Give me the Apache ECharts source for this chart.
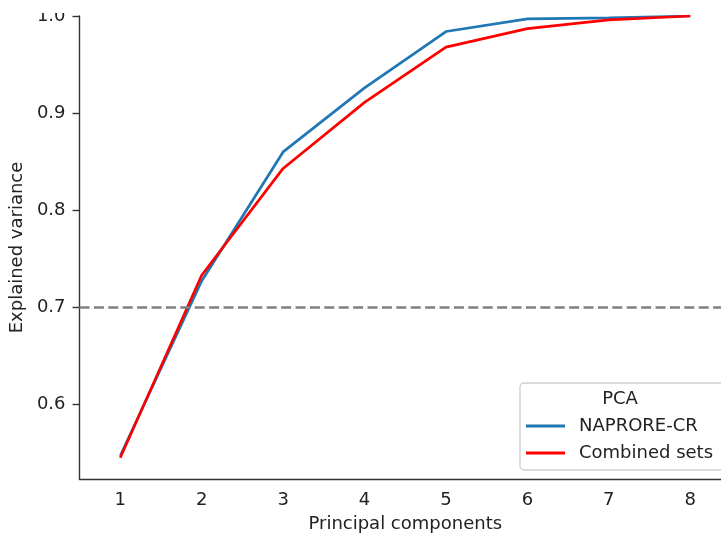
<!DOCTYPE html>
<html>
<head>
<meta charset="utf-8">
<script src="https://cdn.jsdelivr.net/npm/echarts@6/dist/echarts.min.js"></script>
<style>
html,body{margin:0;padding:0;overflow:hidden;background:#fff;}
#c{width:732px;height:538px;}
</style>
</head>
<body>
<div id="c"></div>
<script>
var components = ['1','2','3','4','5','6','7','8'];
var napProreCR = [0.547, 0.727, 0.860, 0.926, 0.984, 0.997, 0.998, 1.000];
var combinedSets = [0.545, 0.733, 0.843, 0.911, 0.968, 0.987, 0.996, 1.000];
var yTicks = [0.6, 0.7, 0.8, 0.9, 1.0];
var threshold = 0.7;
var seriesNames = ['NAPRORE-CR', 'Combined sets'];
var legendTitle = 'PCA';

var FONT = 'DejaVu Sans';
var axisColor = '#333';
var chart = echarts.init(document.getElementById('c'));
chart.setOption({
  animation: false,
  textStyle: {fontFamily: FONT},
  grid: {left: 79, top: 16, right: 1, bottom: 58, containLabel: false},
  xAxis: {
    type: 'category',
    data: components,
    boundaryGap: true,
    name: 'Principal components',
    nameLocation: 'middle',
    nameGap: 36,
    nameTextStyle: {fontFamily: FONT, fontSize: 18, color: '#222'},
    axisLine: {onZero: false, lineStyle: {color: axisColor, width: 1.4}},
    axisTick: {alignWithLabel: true, length: 7, lineStyle: {color: axisColor, width: 1.4}},
    axisLabel: {fontFamily: FONT, fontSize: 18, color: '#222', margin: 12},
    splitLine: {show: false}
  },
  yAxis: {
    type: 'value',
    min: 0.5231,
    max: 1.0,
    name: 'Explained variance',
    nameLocation: 'middle',
    nameGap: 52,
    nameTextStyle: {fontFamily: FONT, fontSize: 18, color: '#222'},
    axisLine: {show: true, onZero: false, lineStyle: {color: axisColor, width: 1.4}},
    axisTick: {show: true, length: 7, customValues: yTicks, lineStyle: {color: axisColor, width: 1.4}},
    axisLabel: {fontFamily: FONT, fontSize: 18, color: '#222', margin: 14, customValues: yTicks,
      formatter: function (v) { return Number(v).toFixed(1); }},
    splitLine: {show: false}
  },
  legend: {
    orient: 'vertical',
    left: 526,
    top: 412.5,
    padding: 0,
    itemGap: 0,
    itemWidth: 39,
    itemHeight: 3,
    z: 300,
    zlevel: 0,
    icon: 'rect',
    data: seriesNames,
    textStyle: {fontFamily: FONT, fontSize: 18, color: '#222', lineHeight: 27, padding: [0, 0, 0, 9]}
  },
  graphic: [
    {type: 'rect', z: 5, shape: {x: 520, y: 383, width: 210, height: 87, r: 4},
      style: {fill: 'rgba(255,255,255,0.8)', stroke: '#d0d0d0', lineWidth: 1.4}},
    {type: 'text', z: 6, x: 620, y: 399,
      style: {text: legendTitle, fontFamily: FONT, fontSize: 18, fill: '#222', align: 'center', verticalAlign: 'middle'}},
    {type: 'rect', z: 6, shape: {x: 0, y: 0, width: 74, height: 13}, style: {fill: '#fff'}}
  ],
  series: [
    {
      name: seriesNames[0], type: 'line', data: napProreCR, showSymbol: false, symbol: 'none',
      lineStyle: {color: '#1f77b4', width: 2.7}, itemStyle: {color: '#1f77b4'}, z: 3,
      markLine: {
        silent: true, symbol: 'none', label: {show: false},
        lineStyle: {color: '#808080', type: [10, 4.4], width: 2.6},
        data: [{yAxis: threshold}]
      }
    },
    {
      name: seriesNames[1], type: 'line', data: combinedSets, showSymbol: false, symbol: 'none',
      lineStyle: {color: '#ff0000', width: 2.7}, itemStyle: {color: '#ff0000'}, z: 4
    }
  ]
});
</script>
</body>
</html>
